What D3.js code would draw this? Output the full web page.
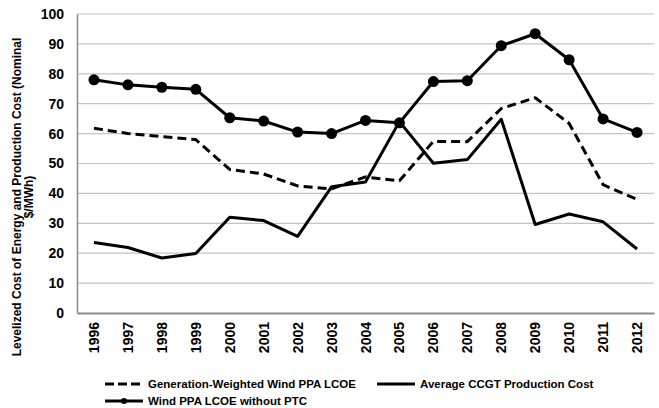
<!DOCTYPE html>
<html>
<head>
<meta charset="utf-8">
<script src="https://cdn.jsdelivr.net/npm/d3@7"></script>
<style>
body { margin: 0; background: #fff; }
text { font-family: Arial, "Liberation Sans", sans-serif; font-weight: bold; fill: #000; }
</style>
</head>
<body>
<div id="chart"></div>
<script>
const years = ['1996', '1997', '1998', '1999', '2000', '2001', '2002', '2003', '2004', '2005', '2006', '2007', '2008', '2009', '2010', '2011', '2012'];
const genWeighted = [61.8, 60, 59, 58, 48, 46.5, 42.5, 41.5, 45.5, 44.2, 57.4, 57.3, 68.4, 72, 63.4, 42.9, 38];
const ccgt = [23.6, 21.9, 18.4, 19.9, 32, 30.9, 25.6, 42.2, 43.8, 64, 50.1, 51.3, 64.8, 29.6, 33.1, 30.5, 21.4];
const noPtc = [78, 76.3, 75.5, 74.8, 65.3, 64.2, 60.5, 60, 64.4, 63.6, 77.4, 77.7, 89.4, 93.4, 84.7, 64.9, 60.4];
const yTicks = [0, 10, 20, 30, 40, 50, 60, 70, 80, 90, 100];

const W = 659, H = 408;
const margin = {top: 14, right: 5, bottom: 95, left: 77};
const width = W - margin.left - margin.right;
const height = H - margin.top - margin.bottom;

const svg = d3.select('#chart')
	.append('svg')
	.attr('width', W)
	.attr('height', H);

const g = svg.append('g')
	.attr('transform', `translate(${margin.left}, ${margin.top})`);

const xScale = d3.scaleBand()
	.domain(years)
	.range([0, width]);

const yScale = d3.scaleLinear()
	.domain([0, 100])
	.range([height, 0]);

// gridlines
g.append('g')
	.selectAll('line')
	.data(yTicks.slice(1))
	.join('line')
	.attr('x1', 0)
	.attr('x2', width)
	.attr('y1', d => yScale(d))
	.attr('y2', d => yScale(d))
	.attr('stroke', '#c4c4c4')
	.attr('stroke-width', 1.2);

const yAxis = d3.axisLeft(yScale)
	.tickValues(yTicks)
	.tickSize(0)
	.tickPadding(13);

g.append('g')
	.attr('class', 'y-axis')
	.call(yAxis)
	.call(a => a.select('.domain').attr('stroke', '#8a8a8a').attr('stroke-width', 1.5))
	.selectAll('text')
	.style('font-size', '14px');

const xAxis = d3.axisBottom(xScale).tickSize(0);

g.append('g')
	.attr('class', 'x-axis')
	.attr('transform', `translate(0, ${height})`)
	.call(xAxis)
	.call(a => a.select('.domain').attr('stroke', '#8a8a8a').attr('stroke-width', 2))
	.selectAll('text')
	.style('font-size', '14px')
	.attr('text-anchor', 'end')
	.attr('transform', 'translate(0, 9) rotate(-90)')
	.attr('x', 0)
	.attr('y', 0)
	.attr('dy', '0.36em');

const xPos = d => xScale(d) + xScale.bandwidth() / 2;

function drawLine(values, dash) {
	const line = d3.line()
		.x((d, i) => xPos(years[i]))
		.y(d => yScale(d));
	g.append('path')
		.datum(values)
		.attr('d', line)
		.attr('fill', 'none')
		.attr('stroke', '#000')
		.attr('stroke-width', 3)
		.attr('stroke-linejoin', 'round')
		.attr('stroke-dasharray', dash || null);
}

drawLine(genWeighted, '9,5');
drawLine(ccgt);
drawLine(noPtc);

g.selectAll('circle.pt')
	.data(noPtc)
	.join('circle')
	.attr('class', 'pt')
	.attr('cx', (d, i) => xPos(years[i]))
	.attr('cy', d => yScale(d))
	.attr('r', 5.5)
	.attr('fill', '#000');

// y axis title
const yTitle = svg.append('text')
	.attr('transform', 'translate(17, 197) rotate(-90)')
	.attr('text-anchor', 'middle')
	.style('font-size', '12px');
yTitle.append('tspan').attr('x', 0).attr('dy', '0.35em').text('Levelized Cost of Energy  and Production Cost (Nominal');
yTitle.append('tspan').attr('x', 0).attr('dy', '1em').text('$/MWh)');

// legend
const legend = svg.append('g').attr('class', 'legend');
const legendItems = [
	{name: 'Generation-Weighted Wind PPA LCOE', x: 105, y: 384, dash: '9,4', marker: false},
	{name: 'Average CCGT Production Cost', x: 377, y: 384, dash: null, marker: false},
	{name: 'Wind PPA LCOE without PTC', x: 105, y: 401, dash: null, marker: true}
];
legendItems.forEach(d => {
	legend.append('line')
		.attr('x1', d.x)
		.attr('x2', d.x + 38)
		.attr('y1', d.y)
		.attr('y2', d.y)
		.attr('stroke', '#000')
		.attr('stroke-width', 3)
		.attr('stroke-dasharray', d.dash);
	if (d.marker) {
		legend.append('circle')
			.attr('cx', d.x + 19)
			.attr('cy', d.y)
			.attr('r', 3)
			.attr('fill', '#000');
	}
	legend.append('text')
		.attr('x', d.x + 43)
		.attr('y', d.y)
		.attr('dy', '0.35em')
		.style('font-size', '11.5px')
		.text(d.name);
});
</script>
</body>
</html>
